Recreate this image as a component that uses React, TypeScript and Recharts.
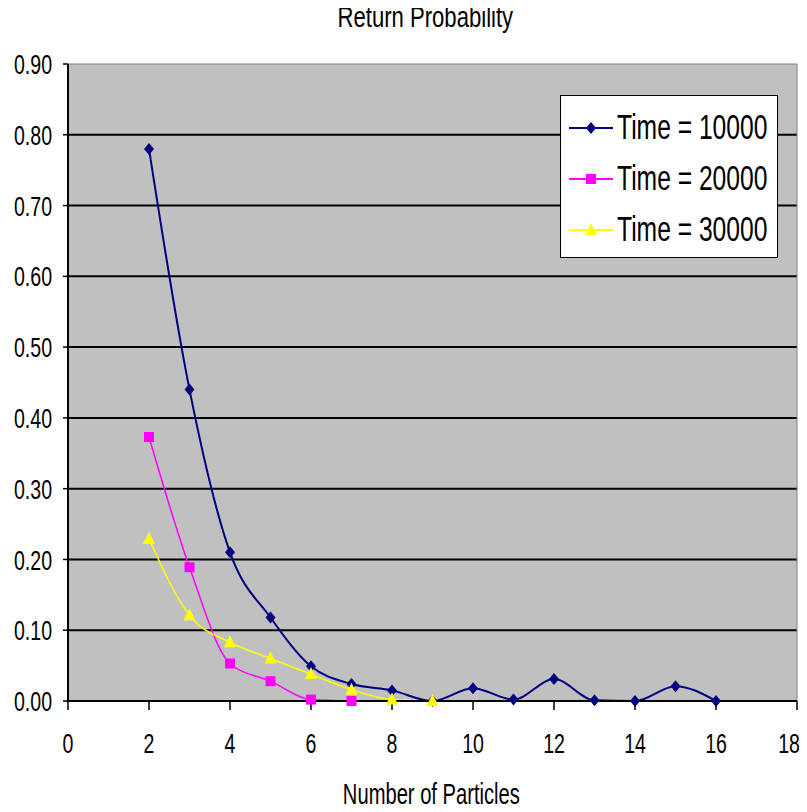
import { LineChart, Line, XAxis, YAxis, CartesianGrid, ReferenceLine } from "recharts";

// only wide sans faces are installed, so text is squeezed horizontally to look condensed
const FONT = '"Liberation Sans", Arial, sans-serif';

// particle counts on the x axis
const particles = [2, 3, 4, 5, 6, 7, 8, 9, 10, 11, 12, 13, 14, 15, 16];

// return probability per particle count, one list per run length
const time10000 = [0.78, 0.44, 0.21, 0.118, 0.049, 0.024, 0.015, 0.0, 0.018, 0.002, 0.031, 0.001, 0.0, 0.021, 0.0];
const time20000 = [0.373, 0.189, 0.053, 0.028, 0.002, 0.0];
const time30000 = [0.229, 0.121, 0.083, 0.06, 0.038, 0.016, 0.002, 0.0];

const xTicks = [0, 2, 4, 6, 8, 10, 12, 14, 16, 18];
const yTicks = [0, 0.1, 0.2, 0.3, 0.4, 0.5, 0.6, 0.7, 0.8, 0.9];
const gridLines = [0.1, 0.2, 0.3, 0.4, 0.5, 0.6, 0.7, 0.8];

const series = [
  { key: "t10000", name: "Time = 10000", color: "#000080", shape: "diamond", width: 2 },
  { key: "t20000", name: "Time = 20000", color: "#FF00FF", shape: "square", width: 1.5 },
  { key: "t30000", name: "Time = 30000", color: "#FFFF00", shape: "triangle", width: 1.5 },
];

const data = particles.map((n, i) => ({
  n,
  t10000: time10000[i],
  t20000: time20000[i],
  t30000: time30000[i],
}));

function Marker({ cx, cy, shape, color }: { cx: number; cy: number; shape: string; color: string }) {
  if (cx == null || cy == null) return null;
  if (shape === "diamond") {
    return <polygon points={`${cx},${cy - 6} ${cx + 5},${cy} ${cx},${cy + 6} ${cx - 5},${cy}`} fill={color} />;
  }
  if (shape === "square") {
    return <rect x={cx - 5} y={cy - 5} width={10} height={10} fill={color} />;
  }
  return <polygon points={`${cx},${cy - 7} ${cx + 6},${cy + 5} ${cx - 6},${cy + 5}`} fill={color} />;
}

function makeDot(shape: string, color: string) {
  return (props: any) => (
    <Marker key={`${shape}-${props.index}`} cx={props.cx} cy={props.cy} shape={shape} color={color} />
  );
}

// svg text stretched tall and narrow
function NarrowText({ x, y, text, anchor, dy, size, sx, sy }: any) {
  return (
    <text
      transform={`translate(${x} ${y}) scale(${sx} ${sy})`}
      x={0}
      y={0}
      dy={dy}
      textAnchor={anchor}
      fontFamily={FONT}
      fontSize={size}
      fill="#000"
    >
      {text}
    </text>
  );
}

function XTick(props: any) {
  // keep the last label inside the svg edge
  const x = Math.min(props.x, 789);
  return (
    <NarrowText x={x} y={props.y} text={props.payload.value} anchor="middle" dy="0.72em" size={23} sx={0.85} sy={1.22} />
  );
}

function YTick(props: any) {
  return (
    <NarrowText x={props.x} y={props.y} text={Number(props.payload.value).toFixed(2)} anchor="end" dy="0.36em" size={23} sx={0.85} sy={1.22} />
  );
}

function HtmlNarrow({ text, size, sx, sy, style }: any) {
  return (
    <div style={{ position: "absolute", ...style }}>
      <span
        style={{
          display: "inline-block",
          fontFamily: FONT,
          fontSize: size,
          lineHeight: 1,
          color: "#000",
          whiteSpace: "nowrap",
          transform: `scale(${sx}, ${sy})`,
          transformOrigin: "center center",
        }}
      >
        {text}
      </span>
    </div>
  );
}

function LegendBox() {
  return (
    <div
      style={{
        position: "absolute",
        left: 560,
        top: 95,
        width: 218,
        height: 163,
        background: "#fff",
        border: "1.5px solid #000",
        boxSizing: "border-box",
      }}
    >
      {series.map((s, i) => (
        <div key={s.key} style={{ position: "absolute", left: 0, top: 17 + i * 51, height: 30, width: 216 }}>
          <svg width={56} height={30} style={{ position: "absolute", left: 6, top: 0 }}>
            <line x1={2} y1={15} x2={46} y2={15} stroke={s.color} strokeWidth={2} />
            <Marker cx={24} cy={15} shape={s.shape} color={s.color} />
          </svg>
          <span
            style={{
              position: "absolute",
              left: 56,
              top: 0,
              fontFamily: FONT,
              fontSize: 28,
              lineHeight: "30px",
              whiteSpace: "nowrap",
              color: "#000",
              transform: "scale(0.88, 1.25)",
              transformOrigin: "left center",
            }}
          >
            {s.name}
          </span>
        </div>
      ))}
    </div>
  );
}

export default function App() {
  return (
    <div style={{ position: "relative", width: 807, height: 812, margin: -8, background: "#fff", overflow: "hidden" }}>
      <LineChart
        width={807}
        height={812}
        data={data}
        margin={{ top: 64, right: 10, left: 0, bottom: 0 }}
      >
        <CartesianGrid horizontal={false} vertical={false} fill="#C0C0C0" />
        {gridLines.map((v) => (
          <ReferenceLine key={v} y={v} stroke="#000" strokeWidth={2} />
        ))}
        <ReferenceLine y={0.9} stroke="#808080" strokeWidth={1} />
        <ReferenceLine x={18} stroke="#808080" strokeWidth={1} />
        <XAxis
          dataKey="n"
          type="number"
          domain={[0, 18]}
          ticks={xTicks}
          height={111}
          tickSize={9}
          tickMargin={23}
          axisLine={{ stroke: "#000", strokeWidth: 2 }}
          tickLine={{ stroke: "#000", strokeWidth: 1.5 }}
          tick={XTick}
        />
        <YAxis
          type="number"
          domain={[0, 0.9]}
          ticks={yTicks}
          width={68}
          tickSize={5}
          tickMargin={11}
          axisLine={{ stroke: "#000", strokeWidth: 2 }}
          tickLine={{ stroke: "#000", strokeWidth: 1.5 }}
          tick={YTick}
        />
        {series.map((s) => (
          <Line
            key={s.key}
            type="monotone"
            dataKey={s.key}
            name={s.name}
            stroke={s.color}
            strokeWidth={s.width}
            dot={makeDot(s.shape, s.color)}
            activeDot={false}
            isAnimationActive={false}
          />
        ))}
      </LineChart>
      <HtmlNarrow
        text="Return Probability"
        size={26}
        sx={0.85}
        sy={1.13}
        style={{ top: 4, left: 0, width: 850, textAlign: "center" }}
      />
      <HtmlNarrow
        text="Number of Particles"
        size={24}
        sx={0.84}
        sy={1.25}
        style={{ top: 782, left: 0, width: 863, textAlign: "center" }}
      />
      <LegendBox />
    </div>
  );
}
